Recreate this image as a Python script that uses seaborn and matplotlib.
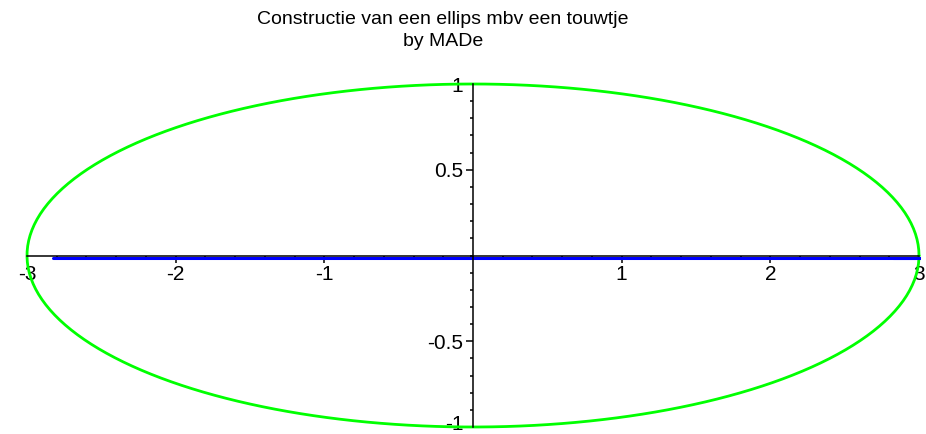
import numpy as np
import pandas as pd
import matplotlib
matplotlib.use("Agg")
import matplotlib.pyplot as plt
import matplotlib.transforms as mtrans
import seaborn as sns
from matplotlib.ticker import MultipleLocator, FixedLocator

sns.set_style("white")
plt.rcParams['font.family'] = ['Liberation Sans', 'DejaVu Sans']

# ellipse parameters (Maple plot): x = a cos t, y = b sin t
a_axis = 3.0
b_axis = 1.0
focus = np.sqrt(a_axis**2 - b_axis**2)

t = np.linspace(0, 2 * np.pi, 400)
ellipse = pd.DataFrame({"x": a_axis * np.cos(t), "y": b_axis * np.sin(t), "o": np.arange(t.size)})

# the string: from left focus to the point (3,0) and back to the right focus
string_x = [-focus, a_axis, focus]
string_y = [0.0, 0.0, 0.0]
string = pd.DataFrame({"x": string_x, "y": string_y, "o": [0, 1, 2]})

x_ticks = [-3, -2, -1, 1, 2, 3]
y_ticks = [-1, -0.5, 0.5, 1]
y_ticklabels = ["-1", "-0.5", "0.5", "1"]
x_ticklabels = ["-3", "-2", "-1", "1", "2", "3"]

fig = plt.figure(figsize=(9.26, 4.34), dpi=100)
ax = fig.add_axes([27 / 926, 7 / 434, 892 / 926, 343 / 434])

sns.lineplot(data=ellipse, x="x", y="y", sort=False, estimator=None, color="#00ff00",
             linewidth=2, ax=ax, clip_on=False, zorder=2)
sns.lineplot(data=string, x="x", y="y", sort=False, estimator=None, color="#0000ff",
             linewidth=2.2, ax=ax, clip_on=False, zorder=2)
# shift the string a hair below the axis line, as in the reference rendering
ax.lines[-1].set_transform(mtrans.offset_copy(ax.transData, fig=fig, x=0, y=-2.2, units="dots"))

ax.set_xlim(-3, 3)
ax.set_ylim(-1, 1)
ax.set_xlabel("")
ax.set_ylabel("")

for s in ["top", "right"]:
    ax.spines[s].set_visible(False)
ax.spines["left"].set_position(("data", 0))
ax.spines["bottom"].set_position(("data", 0))
for s in ["left", "bottom"]:
    ax.spines[s].set_color("black")
    ax.spines[s].set_linewidth(1.1)
    ax.spines[s].set_zorder(3)

ax.xaxis.set_major_locator(FixedLocator(x_ticks))
ax.set_xticklabels(x_ticklabels)
ax.yaxis.set_major_locator(FixedLocator(y_ticks))
ax.set_yticklabels(y_ticklabels)
ax.xaxis.set_minor_locator(MultipleLocator(0.2))
ax.yaxis.set_minor_locator(MultipleLocator(0.1))

ax.tick_params(axis="both", which="major", direction="out", length=5, width=1.1,
               color="black", labelsize=15, labelcolor="black", pad=2)
ax.tick_params(axis="both", which="minor", direction="out", length=2.5, width=1.1, color="black")
ax.tick_params(axis="x", bottom=True, which="both")
ax.tick_params(axis="y", left=True, which="both")
ax.grid(False)

# nudge the lowest y label up slightly so it stays inside the canvas
fig.canvas.draw()
lowest = ax.get_yticklabels()[0]
lowest.set_transform(lowest.get_transform() + mtrans.ScaledTranslation(0, 4 / 100, fig.dpi_scale_trans))

fig.text(443 / 926, 1 - 20 / 434, "Constructie van een ellips mbv een touwtje",
         ha="center", va="center", fontsize=14, color="black")
fig.text(443 / 926, 1 - 42 / 434, "by MADe",
         ha="center", va="center", fontsize=14, color="black")

fig.savefig("out.png", dpi=100, facecolor="white")
